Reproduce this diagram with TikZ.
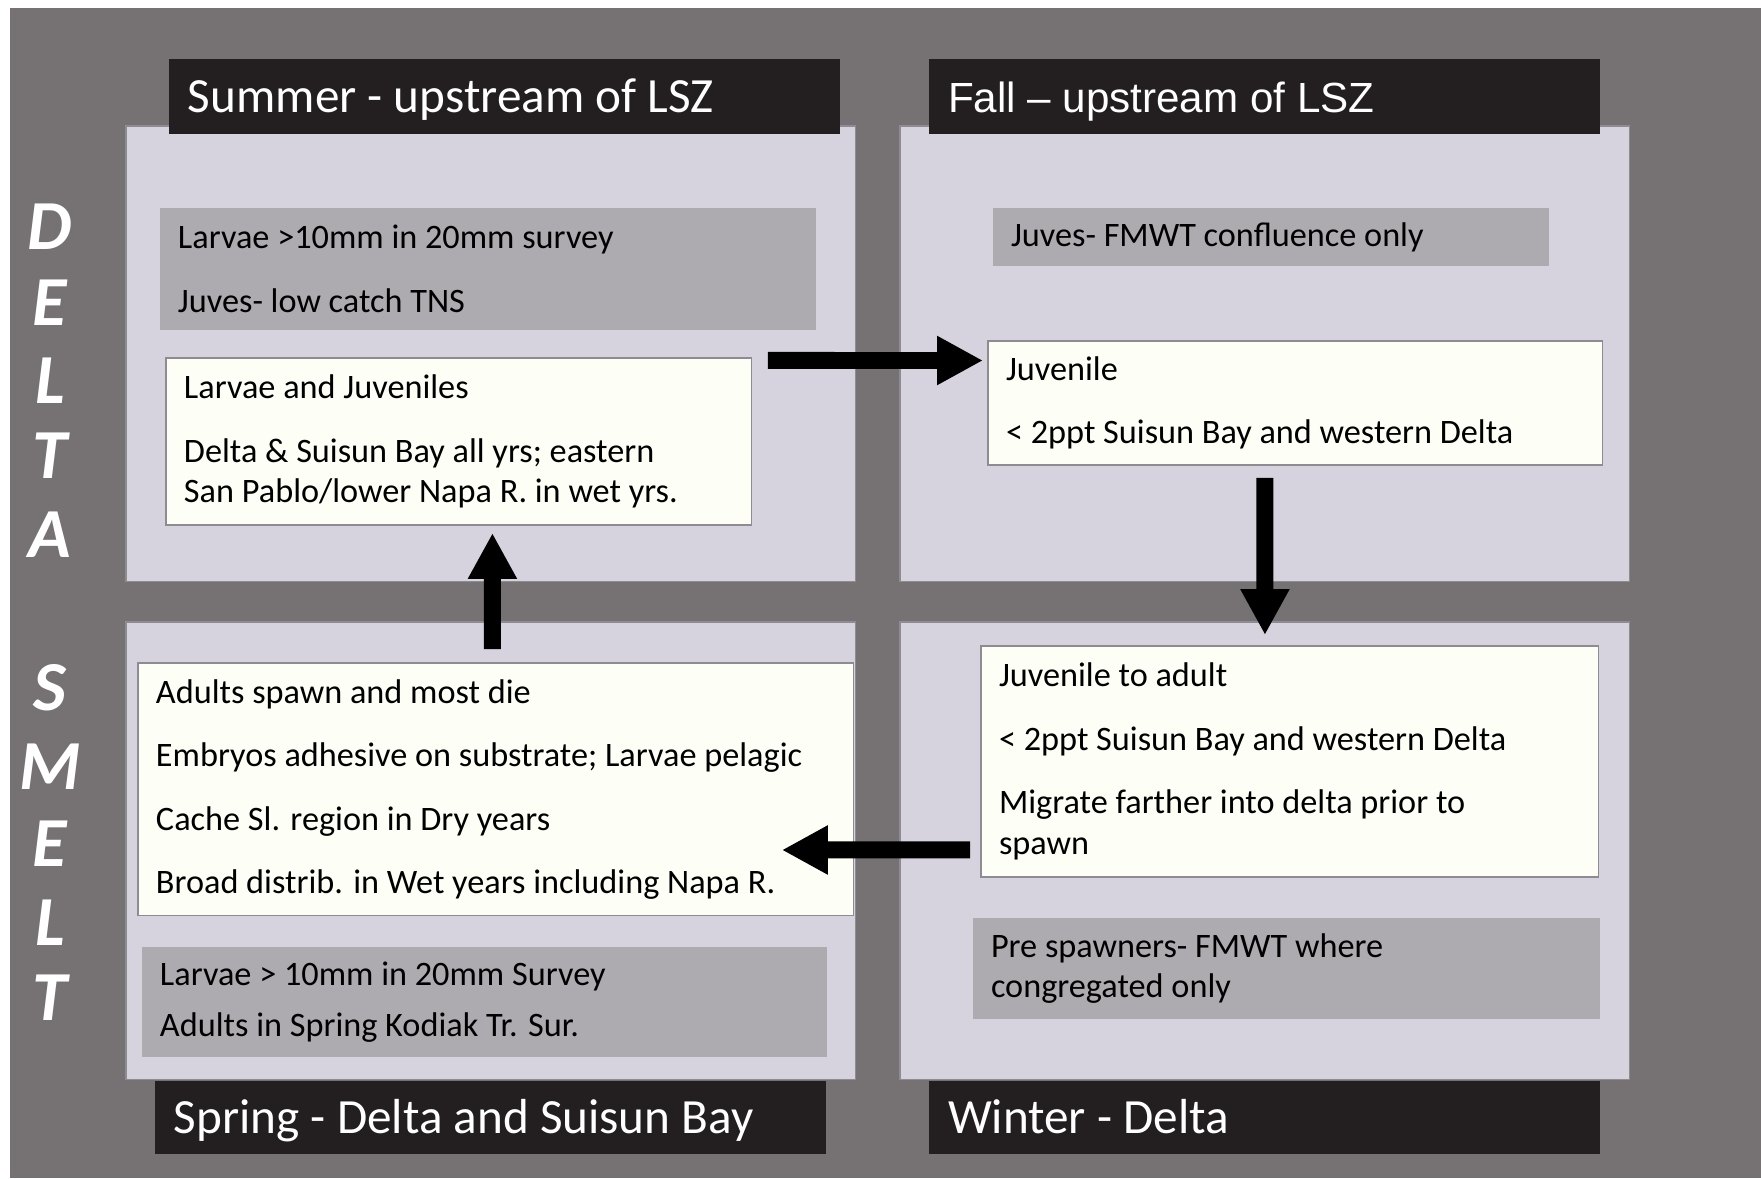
\documentclass[tikz,border=0pt]{standalone}
\usepackage{fontspec}
\setmainfont{Carlito}
\newfontfamily\arialfont{Liberation Sans}
\usetikzlibrary{arrows.meta}
\definecolor{slate}{HTML}{767273}
\definecolor{lavender}{HTML}{D6D3DF}
\definecolor{boxgray}{HTML}{ADAAB0}
\definecolor{notewhite}{HTML}{FDFEF6}
\definecolor{barblack}{HTML}{231F20}
\definecolor{edgegray}{HTML}{8F8B93}
\begin{document}
\begin{tikzpicture}[x=0.02cm, y=-0.02cm,
	every node/.style={anchor=north west, inner ysep=0pt, outer sep=0pt},
	panel/.style={draw=edgegray, line width=0.6pt, fill=lavender, minimum width=14.6cm},
	graybox/.style={fill=boxgray, inner xsep=0.36cm, align=flush left, font=\fontsize{19.5}{23.2}\selectfont},
	notebox/.style={draw=edgegray, line width=0.6pt, fill=notewhite, inner xsep=0.36cm, align=flush left, font=\fontsize{19.5}{23.2}\selectfont},
	titlebar/.style={fill=barblack, text=white, inner xsep=0.38cm, align=flush left, text width=12.66cm, text height=26pt, text depth=8pt, font=\fontsize{28}{32}\selectfont},
	letter/.style={anchor=center, text=white, font=\fontsize{40}{40}\selectfont\bfseries\itshape},
	flow/.style={line width=0.34cm, -{Triangle[length=0.92cm, width=0.92cm]}}]
	\useasboundingbox (0, 0) rectangle (1761, 1178);
	\fill[slate] (10, 8) rectangle (1761, 1178);
	\node[panel, minimum height=9.12cm] (sumP) at (126, 126) {};
	\node[panel, minimum height=9.12cm] (fallP) at (900, 126) {};
	\node[panel, minimum height=9.16cm] (sprP) at (126, 622) {};
	\node[panel, minimum height=9.16cm] (winP) at (900, 622) {};
	\node[titlebar, minimum height=1.5cm] (sumT) at (169, 59) {Summer - upstream of LSZ};
	\node[titlebar, minimum height=1.5cm, font=\arialfont\fontsize{24}{28}\selectfont] (fallT) at (929, 59) {Fall – upstream of LSZ};
	\node[titlebar, minimum height=1.46cm] (sprT) at (155, 1081) {Spring - Delta and Suisun Bay};
	\node[titlebar, minimum height=1.46cm] (winT) at (929, 1081) {Winter - Delta};
	\node[graybox, text width=12.4cm, minimum height=2.44cm] (sumG) at (160, 208) {Larvae >10mm in 20mm survey\\[13pt]Juves- low catch TNS};
	\node[notebox, text width=11cm, minimum height=3.34cm] (sumW) at (166, 358) {Larvae and Juveniles\\[13pt]Delta \& Suisun Bay all yrs; eastern\\San Pablo/lower Napa R. in wet yrs.};
	\node[graybox, text width=10.4cm, minimum height=1.16cm] (fallG) at (993, 208) {Juves- FMWT confluence only};
	\node[notebox, text width=11.58cm, minimum height=2.48cm] (fallW) at (988, 341) {Juvenile\\[13pt]< 2ppt Suisun Bay and western Delta};
	\node[notebox, text width=13.6cm, minimum height=5.06cm] (sprW) at (138, 663) {Adults spawn and most die\\[13pt]Embryos adhesive on substrate; Larvae pelagic\\[13pt]Cache Sl. region in Dry years\\[13pt]Broad distrib. in Wet years including Napa R.};
	\node[graybox, text width=12.98cm, minimum height=2.2cm] (sprG) at (142, 947) {Larvae > 10mm in 20mm Survey\\[6pt]Adults in Spring Kodiak Tr. Sur.};
	\node[notebox, text width=11.64cm, minimum height=4.62cm] (winW) at (981, 646) {Juvenile to adult\\[13pt]< 2ppt Suisun Bay and western Delta\\[13pt]Migrate farther into delta prior to\\spawn};
	\node[graybox, text width=11.82cm, minimum height=2.02cm] (winG) at (973, 918) {Pre spawners- FMWT where\\congregated only};
	\foreach \ch/\yy [count=\i] in {D/227, E/303, L/381, T/456, A/535, S/688, M/767, E/844, L/923, T/998}
		\node[letter] (ds\i) at (50, \yy) {\ch};
	\draw[flow] ([shift={(16, -81)}]sumW.east) -- ([shift={(-5, -42.5)}]fallW.west);
	\draw[flow] ([shift={(-30.5, 13)}]fallW.south) -- ([shift={(-25, -11)}]winW.north);
	\draw[flow] ([shift={(-11, 88.5)}]winW.west) -- ([shift={(-72, 60.5)}]sprW.east);
	\draw[flow] ([shift={(-3.5, -14)}]sprW.north) -- ([shift={(33.5, 8)}]sumW.south);
\end{tikzpicture}
\end{document}
